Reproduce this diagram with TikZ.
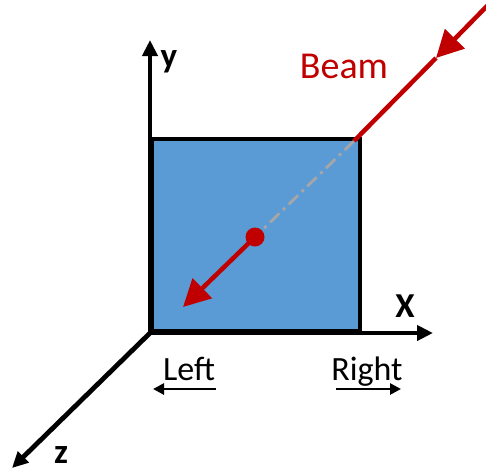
\documentclass[tikz,border=0pt]{standalone}
\usepackage{fontspec}
\setmainfont{Carlito}
\usetikzlibrary{arrows.meta}
\definecolor{boxblue}{HTML}{5B9BD5}
\definecolor{beamred}{HTML}{C00000}
\definecolor{dashgray}{HTML}{A6A6A6}
\tikzset{
  axis/.style={line width=4.8pt, -{Triangle[length=16pt,width=15pt]}},
  beamline/.style={line width=4.5pt, beamred},
  beamarrow/.style={line width=4.5pt, beamred, -{Triangle[length=27pt,width=27pt]}},
  axlabel/.style={font=\fontsize{35}{37}\selectfont\bfseries, inner sep=0pt},
  dirlabel/.style={font=\fontsize{34}{36}\selectfont, inner sep=0pt, anchor=base},
  dirarrow/.style={line width=2.6pt, -{Triangle[length=11pt,width=11pt]}}
}
\begin{document}
\begin{tikzpicture}[x=1pt,y=-1pt]
\useasboundingbox (0,0) rectangle (486,472);
% coordinates
\coordinate (O) at (150,333);
\coordinate (yend) at (150,40);
\coordinate (xend) at (433,333);
\coordinate (zend) at (12,468);
\coordinate (TR) at (354,141);
\coordinate (beamstart) at (488,5);
\coordinate (beamtip) at (436,58);
\coordinate (dot) at (255,237);
\coordinate (redtip) at (183,307);
% box
\node[draw=black, line width=3.8pt, fill=boxblue, minimum width=208pt, minimum height=192pt, inner sep=0pt, anchor=south west] (box) at (O) {};
% axes
\draw[axis] (O) -- (yend);
\draw[axis] (O) -- (xend);
\draw[axis] (O) -- (zend);
% dashed line
\draw[dashgray, line width=2.8pt, dash pattern=on 13pt off 5pt on 3pt off 5pt] (TR) -- (dot);
% beam
\draw[beamarrow] (beamstart) -- (beamtip);
\draw[beamline] (beamtip) -- (TR);
\fill[beamred] (dot) circle (9.5pt);
\draw[beamarrow] (dot) -- (redtip);
% labels
\node[axlabel] (ylab) at (169,62) {y};
\node[axlabel] (xlab) at (405,306) {X};
\node[axlabel] (zlab) at (61,455) {z};
\node[font=\fontsize{38}{40}\selectfont, text=beamred, inner sep=0pt, anchor=base] (beam) at (344,78) {Beam};
\node[dirlabel] (left) at (189,380) {Left};
\node[dirlabel] (right) at (367,380) {Right};
\coordinate (l1) at (216,389);
\coordinate (l2) at (153,389);
\coordinate (r1) at (336,389);
\coordinate (r2) at (401,389);
\draw[dirarrow] (l1) -- (l2);
\draw[dirarrow] (r1) -- (r2);
\end{tikzpicture}
\end{document}
